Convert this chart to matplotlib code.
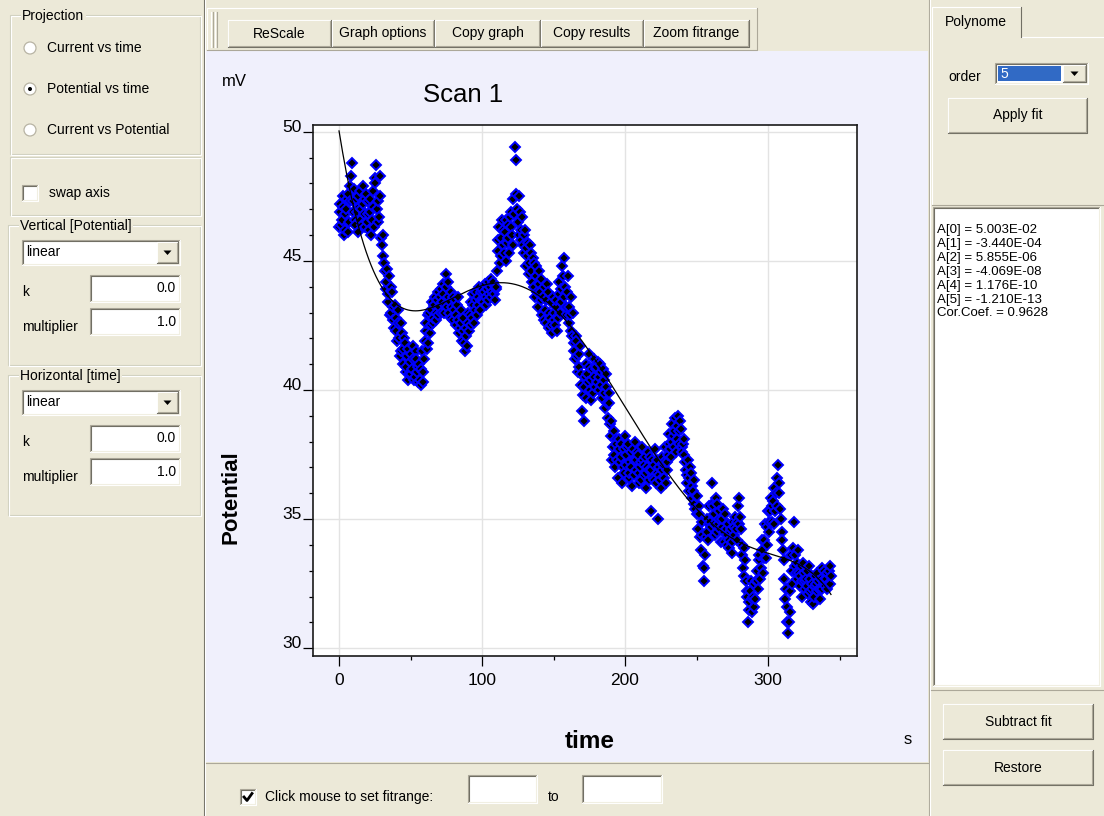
import numpy as np
import matplotlib.pyplot as plt
from matplotlib.patches import Rectangle, Circle, Polygon
from matplotlib.ticker import MultipleLocator

plt.rcParams['font.family'] = ['Liberation Sans', 'DejaVu Sans']
plt.rcParams['ytick.alignment'] = 'baseline'

# ---- data ----
# potential (mV) sampled on the whole second, t = 0 .. 344 s
potential_mV = [
    46.3, 47.2, 46.6, 47.5, 46.2, 47.0, 47.6, 46.5, 47.9, 48.8,
    47.3, 46.6, 47.4, 46.1, 47.1, 47.7, 46.4, 47.2, 46.3, 47.6,
    46.8, 46.2, 47.4, 46.6, 47.7, 48.2, 48.7, 47.3, 46.7, 48.3,
    45.6, 46.0, 44.6, 44.2, 43.4, 44.4, 43.0, 43.8, 42.7, 43.3,
    42.3, 43.1, 42.0, 41.5, 42.2, 41.0, 41.8, 40.9, 41.6, 40.6,
    41.4, 40.8, 41.7, 40.5, 41.2, 40.3, 41.0, 40.2, 41.5, 40.7,
    41.9, 42.6, 41.8, 43.0, 42.5, 43.4, 42.8, 43.6, 43.0, 43.8,
    43.2, 43.9, 43.4, 44.1, 43.3, 44.5, 43.6, 43.0, 43.8, 43.2,
    42.7, 43.5, 42.5, 43.6, 42.2, 43.1, 41.9, 42.8, 41.5, 42.4,
    43.0, 42.3, 43.4, 42.8, 43.7, 43.1, 43.8, 43.3, 44.0, 43.5,
    43.9, 43.4, 44.1, 43.6, 44.2, 43.7, 44.3, 43.8, 44.2, 43.5,
    44.0, 45.4, 46.3, 45.2, 46.6, 45.6, 46.1, 45.0, 46.4, 45.3,
    46.9, 46.0, 47.4, 49.4, 48.9, 46.5, 47.5, 45.8, 46.7, 45.3,
    46.2, 44.8, 45.7, 44.5, 45.3, 44.2, 44.9, 43.6, 44.4, 43.2,
    44.1, 43.5, 42.9, 44.0, 43.1, 42.6, 43.8, 42.4, 43.4, 42.2,
    43.0, 42.5, 43.5, 42.8, 44.2, 43.4, 44.8, 45.1, 44.0, 43.2,
    44.4, 42.6, 43.6, 42.1, 41.8, 41.2, 41.9, 40.7, 41.4, 40.2,
    39.2, 38.8, 40.5, 41.0, 40.3, 41.4, 39.6, 40.8, 41.2, 40.1,
    40.9, 41.1, 40.0, 40.7, 39.7, 40.4, 39.3, 40.1, 38.9, 39.5,
    38.2, 37.3, 38.4, 37.0, 37.9, 36.6, 38.1, 37.4, 36.4, 37.7,
    38.2, 37.1, 37.9, 36.8, 37.6, 36.3, 37.3, 38.0, 36.9, 37.5,
    36.4, 37.2, 37.8, 36.7, 37.4, 36.2, 37.6, 36.9, 35.3, 37.3,
    36.5, 37.7, 36.8, 35.0, 37.0, 36.2, 37.4, 36.6, 37.8, 36.9,
    37.5, 38.3, 37.4, 38.7, 37.8, 38.9, 38.1, 39.0, 37.9, 38.5,
    37.6, 38.1, 37.2, 36.4, 37.3, 36.1, 36.8, 35.8, 36.5, 35.4,
    35.9, 34.6, 35.2, 33.8, 34.4, 32.6, 33.6, 35.0, 34.2, 35.5,
    34.7, 36.4, 35.2, 34.4, 35.6, 34.8, 35.3, 34.1, 35.0, 34.5,
    35.2, 34.0, 34.8, 33.9, 34.6, 33.7, 34.4, 35.1, 34.2, 35.5,
    35.8, 34.6, 33.6, 32.8, 33.4, 32.2, 31.0, 31.8, 32.6, 31.4,
    32.5, 31.9, 33.0, 32.3, 33.6, 33.1, 34.2, 33.5, 34.8, 34.0,
    35.3, 34.5, 35.8, 34.9, 36.2, 35.3, 36.6, 37.1, 36.0, 35.0,
    34.2, 33.4, 31.9, 31.0, 30.6, 31.4, 33.6, 32.5, 34.9, 33.2,
    32.7, 33.8, 32.4, 33.2, 32.0, 32.9, 32.3, 33.0, 32.1, 32.7,
    31.8, 32.5, 32.0, 32.8, 32.2, 32.6, 31.9, 32.7, 32.3, 33.0,
    32.4, 32.9, 32.5, 33.2, 32.8,
]
# potential (mV) sampled on the half second, t = 0.5 .. 343.5 s
potential_mV_half = [
    46.9, 46.4, 47.1, 46.0, 46.8, 47.4, 46.1, 47.3, 48.3, 46.9,
    47.8, 46.4, 46.9, 47.5, 46.6, 47.0, 47.9, 46.8, 47.4, 46.5,
    47.3, 46.9, 46.0, 47.1, 46.3, 48.0, 47.0, 46.5, 47.5, 45.9,
    45.2, 44.9, 43.9, 44.7, 43.7, 42.9, 44.0, 43.2, 42.4, 42.8,
    41.9, 42.6, 41.3, 42.6, 41.6, 42.0, 40.7, 41.3, 40.4, 41.1,
    40.6, 41.2, 40.4, 41.5, 40.7, 40.9, 40.4, 40.8, 40.3, 41.2,
    42.3, 41.6, 42.9, 42.2, 43.1, 42.6, 43.3, 42.7, 43.5, 42.9,
    43.6, 43.0, 43.7, 43.0, 44.0, 43.2, 44.2, 43.4, 42.8, 43.6,
    43.1, 42.9, 43.3, 42.7, 42.4, 42.6, 42.3, 41.8, 42.1, 41.7,
    42.6, 42.9, 42.5, 43.3, 42.6, 43.5, 42.9, 43.6, 43.1, 43.8,
    43.5, 43.8, 43.3, 43.9, 43.5, 44.0, 43.6, 44.1, 43.7, 43.9,
    44.6, 45.8, 44.9, 45.9, 46.2, 45.3, 46.6, 45.7, 45.9, 46.7,
    46.3, 45.6, 46.8, 47.6, 47.0, 46.0, 46.9, 46.2, 45.6, 46.0,
    45.5, 45.2, 44.9, 45.6, 44.6, 45.1, 44.0, 44.8, 43.8, 44.6,
    43.8, 44.3, 43.6, 42.7, 43.5, 44.1, 43.0, 42.8, 42.5, 43.6,
    42.7, 43.2, 42.3, 43.7, 43.0, 43.9, 44.4, 43.6, 42.9, 43.8,
    43.2, 42.9, 42.3, 43.0, 41.5, 42.1, 41.3, 40.9, 41.7, 40.6,
    39.8, 40.1, 39.7, 40.6, 40.9, 40.0, 40.4, 39.9, 40.5, 40.8,
    40.3, 40.5, 41.0, 40.2, 40.8, 39.9, 40.6, 39.5, 39.9, 38.7,
    38.8, 37.8, 37.5, 38.1, 37.3, 37.7, 37.2, 37.9, 37.0, 36.8,
    37.5, 37.8, 36.6, 37.2, 37.0, 37.7, 36.7, 37.3, 37.6, 36.8,
    37.0, 36.5, 37.3, 37.1, 36.8, 37.0, 36.5, 37.4, 36.9, 36.6,
    37.1, 36.4, 37.3, 36.7, 36.5, 36.9, 37.1, 37.2, 36.4, 37.2,
    37.9, 37.7, 38.0, 38.2, 38.4, 37.6, 38.6, 38.4, 38.8, 37.8,
    37.9, 37.5, 36.9, 36.7, 36.6, 37.0, 36.3, 36.1, 35.6, 35.9,
    35.2, 35.5, 34.3, 34.9, 33.2, 33.1, 34.3, 34.5, 34.8, 34.9,
    35.6, 35.5, 34.8, 35.8, 34.5, 35.0, 34.6, 34.7, 35.4, 34.1,
    34.6, 34.4, 34.2, 34.5, 34.1, 34.9, 34.7, 34.6, 34.9, 34.8,
    35.1, 34.0, 33.1, 33.9, 32.6, 32.0, 31.5, 32.2, 31.9, 32.0,
    31.6, 32.6, 32.6, 33.4, 32.7, 33.8, 32.9, 34.2, 33.5, 34.7,
    34.9, 35.3, 35.5, 35.7, 34.8, 36.0, 35.5, 36.4, 35.4, 34.5,
    33.8, 32.7, 32.3, 31.6, 31.0, 32.2, 33.0, 33.9, 33.6, 32.9,
    33.3, 32.9, 32.8, 32.6, 33.3, 32.6, 32.7, 32.4, 33.2, 32.2,
    32.3, 31.7, 32.4, 32.5, 32.9, 32.3, 32.3, 33.1, 32.6, 32.7,
    32.7, 32.3, 33.0, 32.5,
]

# polynomial fit shown in the result box (volts, t in s)
fit_coef = [5.003E-02, -3.440E-04, 5.855E-06, -4.069E-08, 1.176E-10, -1.210E-13]
cor_coef = 0.9628

x_ticks = [0, 100, 200, 300]
y_ticks = [30, 35, 40, 45, 50]
toolbar_buttons = ['ReScale', 'Graph options', 'Copy graph', 'Copy results', 'Zoom fitrange']
projections = ['Current vs time', 'Potential vs time', 'Current vs Potential']

# ---- window chrome ----
W, H = 1104, 816
FACE = '#ECE9D8'
LAV = '#F0F0FC'
SHADOW = '#ACA899'
DARK = '#716F64'
UIFS = 10

fig = plt.figure(figsize=(W / 100, H / 100), dpi=100)
ui = fig.add_axes([0, 0, 1, 1])
ui.set_xlim(0, W)
ui.set_ylim(H, 0)
ui.axis('off')


def box(x0, y0, x1, y1, fc, z=1):
    ui.add_patch(Rectangle((x0, y0), x1 - x0, y1 - y0, fc=fc, ec='none', zorder=z))


def edge(x0, y0, x1, y1, tl, br, z=3):
    ui.plot([x0, x0, x1], [y1, y0, y0], color=tl, lw=0.8, zorder=z)
    ui.plot([x0, x1, x1], [y1, y1, y0], color=br, lw=0.8, zorder=z)


def button(x0, y0, x1, y1, label, fs=UIFS):
    box(x0, y0, x1, y1, FACE, 2)
    edge(x0, y0, x1, y1, 'white', DARK)
    edge(x0 + 1, y0 + 1, x1 - 1, y1 - 1, FACE, SHADOW)
    ui.text((x0 + x1) / 2, (y0 + y1) / 2, label, ha='center', va='center', fontsize=fs, zorder=4)


def field(x0, y0, x1, y1, text=None):
    box(x0, y0, x1, y1, 'white', 2)
    edge(x0, y0, x1, y1, SHADOW, 'white')
    edge(x0 + 1, y0 + 1, x1 - 1, y1 - 1, DARK, '#F1EFE2')
    if text:
        ui.text(x1 - 4, (y0 + y1) / 2, text, ha='right', va='center', fontsize=UIFS, zorder=4)


def arrow_btn(x0, y0, x1, y1):
    button(x0, y0, x1, y1, '')
    cx, cy = (x0 + x1) / 2, (y0 + y1) / 2
    ui.add_patch(Polygon([[cx - 4, cy - 2], [cx + 4, cy - 2], [cx, cy + 2.5]], fc='black', ec='none', zorder=5))


def combo(x0, y0, x1, y1, text):
    field(x0, y0, x1, y1)
    ui.text(x0 + 4, (y0 + y1) / 2, text, ha='left', va='center', fontsize=UIFS, zorder=4)
    arrow_btn(x1 - 23, y0 + 2, x1 - 2, y1 - 2)


def group(x0, y0, x1, y1, label=None):
    ui.add_patch(Rectangle((x0, y0), x1 - x0, y1 - y0, fc='none', ec='#D0D0BF', lw=0.8, zorder=2))
    ui.add_patch(Rectangle((x0 + 1, y0 + 1), x1 - x0, y1 - y0, fc='none', ec='white', lw=0.8, zorder=2))
    if label:
        ui.text(x0 + 12, y0 + 1, label, ha='left', va='center', fontsize=UIFS, zorder=4,
                bbox=dict(fc=FACE, ec='none', pad=1))


def checkbox(x0, y0, checked):
    field(x0, y0, x0 + 16, y0 + 16)
    if checked:
        ui.plot([x0 + 4, x0 + 7, x0 + 12], [y0 + 8, y0 + 11.5, y0 + 4.5], color='black', lw=2, zorder=5)


# backgrounds
box(0, 0, W, H, FACE, 0)
box(206, 51, 928, 762, LAV, 1)
ui.plot([204, 204], [0, H], color=DARK, lw=0.8, zorder=2)
ui.plot([205, 205], [0, H], color='white', lw=0.8, zorder=2)
ui.plot([929, 929], [0, H], color=SHADOW, lw=0.8, zorder=2)
ui.plot([930, 930], [0, H], color='white', lw=0.8, zorder=2)
ui.plot([206, 928], [762.5, 762.5], color=SHADOW, lw=0.8, zorder=2)

# left panel
group(10, 15, 200, 154, 'Projection')
for i, name in enumerate(projections):
    cy = 48 + 41 * i
    ui.add_patch(Circle((30, cy), 6, fc='white', ec='#B8B4A4', lw=0.9, zorder=3))
    if i == 1:
        ui.add_patch(Circle((30, cy), 2, fc='black', ec='none', zorder=4))
    ui.text(47, cy, name, ha='left', va='center', fontsize=UIFS, zorder=4)
group(10, 157, 200, 215)
checkbox(22, 185, False)
ui.text(49, 193, 'swap axis', ha='left', va='center', fontsize=UIFS, zorder=4)

for top, name in [(225, 'Vertical [Potential]'), (375, 'Horizontal [time]')]:
    group(8, top, 200, top + 140, name)
    combo(22, top + 15, 180, top + 40, 'linear')
    field(90, top + 50, 180, top + 77, '0.0')
    ui.text(22, top + 67, 'k', ha='left', va='center', fontsize=UIFS, zorder=4)
    field(90, top + 83, 180, top + 110, '1.0')
    ui.text(22, top + 102, 'multiplier', ha='left', va='center', fontsize=UIFS, zorder=4)

# toolbar
box(207, 8, 757, 50, FACE, 1)
edge(207, 8, 757, 50, 'white', SHADOW)
for hx in (211, 215):
    ui.plot([hx, hx], [12, 47], color='white', lw=0.8, zorder=3)
    ui.plot([hx + 1.5, hx + 1.5], [12, 47], color=SHADOW, lw=0.8, zorder=3)
btn_edges = [228, 332, 435, 541, 644, 750]
for i, name in enumerate(toolbar_buttons):
    button(btn_edges[i], 20, btn_edges[i + 1] - 1, 47, name)

# bottom strip
checkbox(240, 789, True)
ui.text(265, 797, 'Click mouse to set fitrange:', ha='left', va='center', fontsize=UIFS, zorder=4)
field(468, 775, 537, 803)
ui.text(548, 797, 'to', ha='left', va='center', fontsize=UIFS, zorder=4)
field(582, 775, 662, 803)

# right panel
ui.plot([1021, W], [37, 37], color='white', lw=0.8, zorder=2)
ui.plot([932, 932], [37, 205], color='white', lw=0.8, zorder=2)
ui.plot([932, W], [205, 205], color=SHADOW, lw=0.8, zorder=2)
box(932, 7, 1021, 38, FACE, 2)
ui.plot([932, 932, 1021], [38, 7, 7], color='white', lw=0.8, zorder=3)
ui.plot([1021, 1021], [7, 37], color=DARK, lw=0.8, zorder=3)
ui.text(976, 22, 'Polynome', ha='center', va='center', fontsize=UIFS, zorder=4)
ui.text(948, 77, 'order', ha='left', va='center', fontsize=UIFS, zorder=4)
field(995, 63, 1088, 84)
box(998, 66, 1061, 81, '#316AC5', 3)
ui.text(1000, 73.5, '5', ha='left', va='center', fontsize=UIFS, color='white', zorder=4)
arrow_btn(1063, 65, 1086, 82)
button(948, 98, 1087, 133, 'Apply fit')

field(933, 207, 1100, 686)
coef_lines = ['A[%d] = %.3E' % (i, c) for i, c in enumerate(fit_coef)]
coef_lines.append('Cor.Coef. = %.4f' % cor_coef)
for i, line in enumerate(coef_lines):
    ui.text(937, 230 + 13.9 * i, line, ha='left', va='center', fontsize=9.5, zorder=4)
ui.plot([931, W], [690, 690], color=SHADOW, lw=0.8, zorder=2)
button(943, 704, 1093, 739, 'Subtract fit')
button(943, 750, 1093, 785, 'Restore')

# ---- chart ----
L, T, R, B = 313, 125, 857, 656
ax = fig.add_axes([L / W, 1 - B / H, (R - L) / W, (B - T) / H])
ax.set_facecolor('white')

t_full = np.arange(len(potential_mV)) * 1.0
t_half = np.arange(len(potential_mV_half)) * 1.0 + 0.5
t_all = np.concatenate([t_full, t_half])
v_all = np.concatenate([potential_mV, potential_mV_half])
order = np.argsort(t_all, kind='stable')
ax.plot(t_all[order], v_all[order], ls='none', marker='D', ms=4.6, mfc='black',
        mec='#0000FF', mew=1.4, zorder=3)

tf = np.linspace(t_full[0], t_full[-1], 400)
ax.plot(tf, np.polyval(fit_coef[::-1], tf) * 1000, color='black', lw=0.9, zorder=4)

ax.set_xlim(-18.2, 362.2)
ax.set_ylim(29.70, 50.26)
ax.set_xticks(x_ticks)
ax.set_yticks(y_ticks)
ax.xaxis.set_minor_locator(MultipleLocator(50))
ax.yaxis.set_minor_locator(MultipleLocator(1))
ax.grid(True, which='major', color='#E3E3E3', lw=1.0)
ax.set_axisbelow(True)
ax.tick_params(which='major', direction='out', length=7, width=0.9, labelsize=12.5)
ax.tick_params(which='minor', direction='out', length=3, width=0.9)
ax.tick_params(axis='x', pad=5)
ax.tick_params(axis='y', pad=1)
for s in ax.spines.values():
    s.set_color('#1A1A1A')
    s.set_linewidth(1.2)

ax.set_ylabel('Potential', fontsize=16, fontweight='bold', va='center')
ax.yaxis.set_label_coords((231 - L) / (R - L), (B - 497) / (B - T))
ax.set_xlabel('time', fontsize=17.5, fontweight='bold', va='center')
ax.xaxis.set_label_coords((590 - L) / (R - L), (B - 741) / (B - T))

ui.text(463, 95, 'Scan 1', ha='center', va='center', fontsize=18.5, zorder=4)
ui.text(234, 81, 'mV', ha='center', va='center', fontsize=12, zorder=4)
ui.text(908, 740, 's', ha='center', va='center', fontsize=12, zorder=4)

fig.savefig('out.png', dpi=100)
